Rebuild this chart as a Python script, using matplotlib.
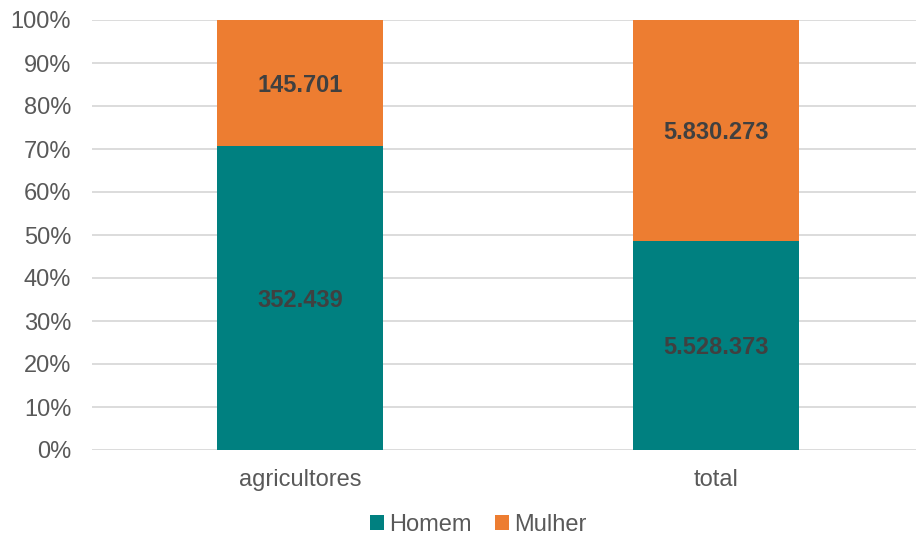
import matplotlib
matplotlib.use("Agg")
import matplotlib.pyplot as plt
import numpy as np
from matplotlib.ticker import PercentFormatter
from matplotlib.transforms import offset_copy

categories = ["agricultores", "total"]
homem = [352439, 5528373]
mulher = [145701, 5830273]
series_names = ["Homem", "Mulher"]
colors = ["#008080", "#ED7D31"]

def fmt(v):
    return f"{v:,}".replace(",", ".")

plt.rcParams['font.family'] = ['Liberation Sans', 'DejaVu Sans']
FS = 17
W, H = 916, 538
fig = plt.figure(figsize=(W/100, H/100), dpi=100)
ax = fig.add_axes([92/W, (H-450)/H, (916-92)/W, 430/H])

h = np.array(homem, float)
m = np.array(mulher, float)
tot = h + m
hp = h / tot * 100
mp = m / tot * 100
x = np.arange(len(categories))
bw = 0.4
ax.bar(x, hp, bw, color=colors[0], label=series_names[0], zorder=3)
ax.bar(x, mp, bw, bottom=hp, color=colors[1], label=series_names[1], zorder=3)
tr = offset_copy(ax.transData, fig=fig, x=0, y=-2.5, units='dots')
for i in range(len(x)):
    ax.text(x[i], hp[i]/2, fmt(homem[i]), ha='center', va='center', fontsize=FS,
            fontweight='bold', color='#404040', zorder=4, transform=tr)
    ax.text(x[i], hp[i] + mp[i]/2, fmt(mulher[i]), ha='center', va='center', fontsize=FS,
            fontweight='bold', color='#404040', zorder=4, transform=tr)

ax.set_xlim(-0.5, (916-300)/416)
ax.set_ylim(0, 100)
ax.set_yticks(np.arange(0, 101, 10))
ax.yaxis.set_major_formatter(PercentFormatter(decimals=0))
ax.set_xticks(x)
ax.set_xticklabels(categories)
ax.tick_params(axis='both', length=0, labelsize=FS, colors='#595959')
ax.tick_params(axis='y', pad=15)
ax.tick_params(axis='x', pad=13.5)
ax.grid(axis='y', color='#D9D9D9', linewidth=1.3, zorder=0)
for s in ax.spines.values():
    s.set_visible(False)

leg = fig.legend(loc='center', bbox_to_anchor=(478/W, (H-525)/H), ncol=2, frameon=False,
                 fontsize=FS, handlelength=0.6, handleheight=0.6, handletextpad=0.2,
                 columnspacing=1.0, labelcolor='#595959', borderpad=0.1)
fig.savefig("out.png", dpi=100)
